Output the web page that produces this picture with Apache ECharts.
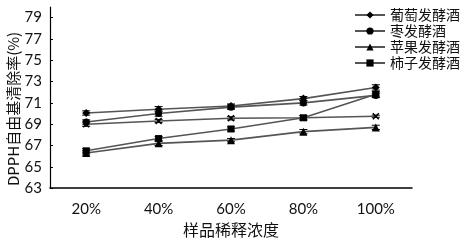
<!DOCTYPE html>
<html>
<head>
<meta charset="utf-8">
<script src="https://cdn.jsdelivr.net/npm/echarts@6/dist/echarts.min.js"></script>
<style>html,body{margin:0;padding:0;background:#fff;}#c{width:472px;height:243px;}</style>
</head>
<body>
<div id="c"></div>
<script>
var categories = ['20%', '40%', '60%', '80%', '100%'];
var grape = [70.05, 70.4, 70.7, 71.4, 72.45];
var jujube = [69.2, 70.0, 70.6, 71.0, 71.7];
var extra = [69.0, 69.3, 69.55, 69.6, 69.75];
var apple = [66.3, 67.2, 67.5, 68.3, 68.7];
var persimmon = [66.5, 67.65, 68.55, 69.6, 71.8];
var grapeErr = [0.2, 0.25, 0.2, 0.2, 0.25];
var jujubeErr = [0.2, 0.25, 0.2, 0.2, 0.2];
var extraErr = [0.2, 0.15, 0.15, 0.2, 0.1];
var appleErr = [0.2, 0.2, 0.15, 0.2, 0.2];
var persimmonErr = [0.2, 0.2, 0.2, 0.2, 0.25];
var names = ['葡萄发酵酒', '枣发酵酒', '苹果发酵酒', '柿子发酵酒'];
var yTitle = 'DPPH自由基清除率(%)';
var xTitle = '样品稀释浓度';

var xPath = 'path://M0,1.5 L1.5,0 L5,3.5 L8.5,0 L10,1.5 L6.5,5 L10,8.5 L8.5,10 L5,6.5 L1.5,10 L0,8.5 L3.5,5Z';

function lineSeries(name, data, symbol, size) {
  return {
    name: name, type: 'line', data: data, symbol: symbol, symbolSize: size,
    lineStyle: {color: '#555', width: 1.6},
    itemStyle: {color: '#000'},
    z: 3
  };
}
function errSeries(vals, errs) {
  var d = vals.map(function (v, i) { return [i, v - errs[i], v + errs[i]]; });
  return {
    type: 'custom', data: d, z: 2, silent: true,
    renderItem: function (params, api) {
      var lo = api.coord([api.value(0), api.value(1)]);
      var hi = api.coord([api.value(0), api.value(2)]);
      var w = 4;
      var st = {stroke: '#000', lineWidth: 1};
      return {type: 'group', children: [
        {type: 'line', shape: {x1: lo[0], y1: lo[1], x2: hi[0], y2: hi[1]}, style: st},
        {type: 'line', shape: {x1: lo[0]-w, y1: lo[1], x2: lo[0]+w, y2: lo[1]}, style: st},
        {type: 'line', shape: {x1: hi[0]-w, y1: hi[1], x2: hi[0]+w, y2: hi[1]}, style: st}
      ]};
    }
  };
}

var chart = echarts.init(document.getElementById('c'));
chart.setOption({
  animation: false,
  backgroundColor: '#fff',
  grid: {left: 50, right: 60, top: 7, bottom: 52},
  graphic: [{
    type: 'text', x: 13, y: 109, rotation: Math.PI / 2,
    style: {text: yTitle, fontFamily: 'Noto Sans CJK SC', fontSize: 15, fill: '#111',
            align: 'center', verticalAlign: 'middle'}
  }],
  legend: {
    data: names, orient: 'vertical', right: 7, top: 3,
    itemWidth: 30, itemHeight: 9, itemGap: 2,
    textStyle: {fontFamily: 'Noto Sans CJK SC', fontSize: 14, color: '#111'}
  },
  xAxis: {
    type: 'category', data: categories, boundaryGap: true,
    axisLine: {lineStyle: {color: '#000', width: 1.5}},
    axisTick: {inside: true, alignWithLabel: true, length: 4, lineStyle: {color: '#000'}},
    axisLabel: {fontFamily: 'Lato', fontSize: 15, color: '#111', margin: 14},
    name: xTitle, nameLocation: 'middle', nameGap: 29,
    nameTextStyle: {fontFamily: 'Noto Sans CJK SC', fontSize: 16, color: '#111'}
  },
  yAxis: {
    type: 'value', min: 63, max: 80, interval: 2,
    splitLine: {show: false},
    axisLine: {show: true, lineStyle: {color: '#000', width: 1.2}},
    axisTick: {show: true, inside: true, length: 3, lineStyle: {color: '#000'}},
    axisLabel: {fontFamily: 'Lato', fontSize: 15, color: '#111', margin: 8, showMaxLabel: false}
  },
  series: [
    lineSeries(names[0], grape, 'diamond', 8),
    lineSeries(names[1], jujube, 'circle', 7),
    lineSeries(names[2], apple, 'triangle', 8),
    lineSeries(names[3], persimmon, 'rect', 7),
    lineSeries('x', extra, xPath, 7),
    errSeries(grape, grapeErr),
    errSeries(jujube, jujubeErr),
    errSeries(apple, appleErr),
    errSeries(persimmon, persimmonErr),
    errSeries(extra, extraErr)
  ]
});
</script>
</body>
</html>
